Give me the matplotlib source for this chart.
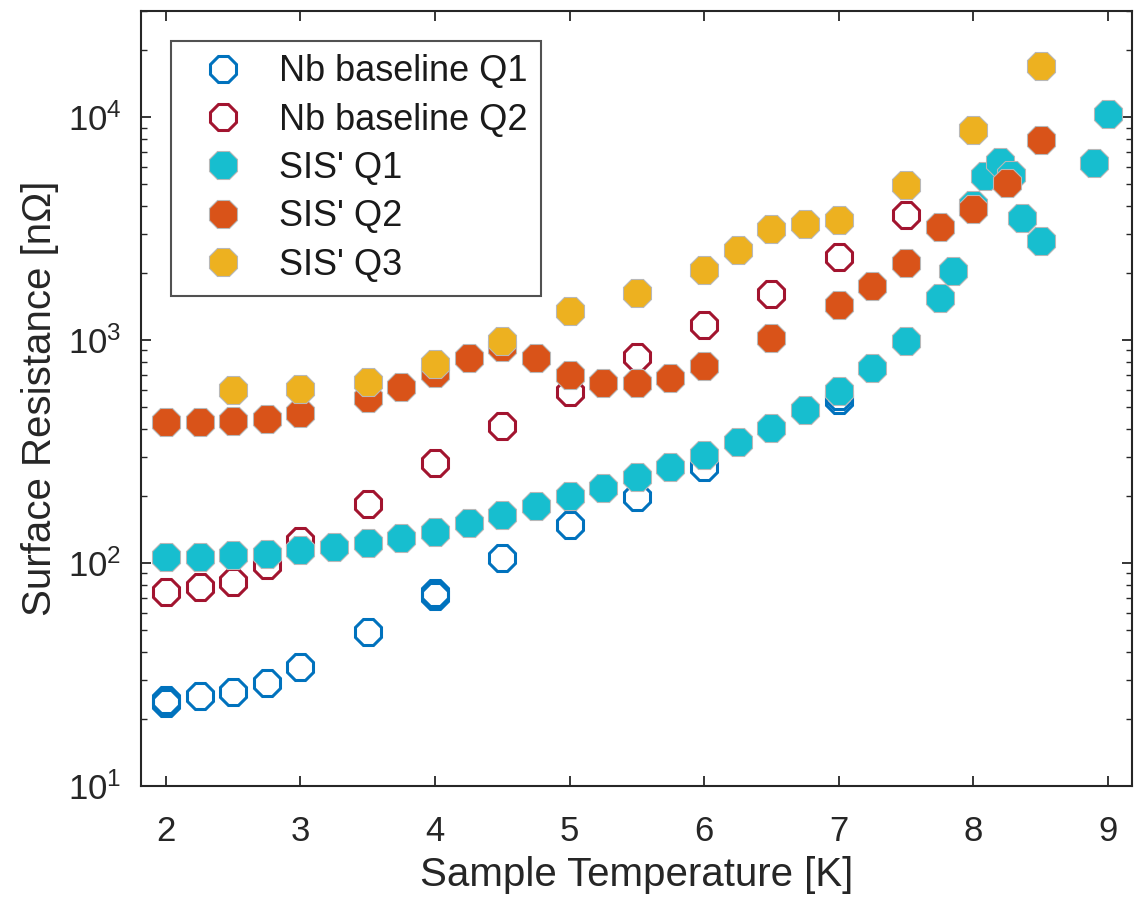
import matplotlib
matplotlib.use('Agg')
import matplotlib.pyplot as plt
from matplotlib.ticker import LogLocator, NullFormatter, FixedLocator
import numpy as np

plt.rcParams['font.family'] = ['Liberation Sans', 'DejaVu Sans']
plt.rcParams['mathtext.fontset'] = 'custom'
plt.rcParams['mathtext.rm'] = 'Liberation Sans'

t_nb_q1 = [2.0, 2.0, 2.25, 2.5, 2.75, 3.0, 3.5, 4.0, 4.0, 4.5, 5.0, 5.5, 6.0, 7.0, 7.0]
r_nb_q1 = [23.5, 24.3, 25.3, 26.5, 28.9, 34.3, 49, 71.5, 73.5, 105, 148, 198, 270, 538, 560]

t_nb_q2 = [2.0, 2.25, 2.5, 2.75, 3.0, 3.5, 4.0, 4.5, 5.0, 5.5, 6.0, 6.5, 7.0, 7.5]
r_nb_q2 = [74, 78, 82, 98, 125, 185, 282, 411, 586, 841, 1167, 1618, 2365, 3637]

t_sis_q1 = [2.0, 2.25, 2.5, 2.75, 3.0, 3.25, 3.5, 3.75, 4.0, 4.25, 4.5, 4.75, 5.0,
            5.25, 5.5, 5.75, 6.0, 6.25, 6.5, 6.75, 7.0, 7.25, 7.5, 7.75, 7.85,
            8.0, 8.09, 8.2, 8.28, 8.36, 8.5, 8.9, 9.0]
r_sis_q1 = [107, 107, 109, 110, 114, 118, 123, 130, 138, 152, 164, 181, 200,
            218, 244, 270, 305, 350, 402, 485, 590, 747, 993, 1553, 2040,
            4030, 5440, 6300, 5500, 3535, 2780, 6240, 10390]

t_sis_q2 = [2.0, 2.25, 2.5, 2.75, 3.0, 3.5, 3.75, 4.0, 4.25, 4.5, 4.75, 5.0, 5.25,
            5.5, 5.75, 6.0, 6.5, 7.0, 7.25, 7.5, 7.75, 8.0, 8.25, 8.5]
r_sis_q2 = [430, 430, 435, 441, 469, 548, 614, 709, 836, 933, 836, 697, 644,
            644, 680, 764, 1018, 1435, 1746, 2222, 3221, 3896, 5075, 7943]

t_sis_q3 = [2.5, 3.0, 3.5, 4.0, 4.5, 5.0, 5.5, 6.0, 6.25, 6.5, 6.75, 7.0, 7.5, 8.0, 8.5]
r_sis_q3 = [597, 601, 650, 780, 993, 1353, 1630, 2061, 2552, 3169, 3312, 3452, 4955, 8750, 16980]

x_ticks = [2, 3, 4, 5, 6, 7, 8, 9]

ink = '#262626'

fig = plt.figure(figsize=(11.36, 9.0), dpi=100)
ax = fig.add_axes([0.124, 0.1267, 0.8725, 0.8611])

ms = 21.5
ax.plot(t_nb_q1, r_nb_q1, '8', ms=ms - 1.5, mfc='none', mec='#0072BD', mew=2.2,
        label='Nb baseline Q1')
ax.plot(t_nb_q2, r_nb_q2, '8', ms=ms - 1.5, mfc='none', mec='#A2142F', mew=2.2,
        label='Nb baseline Q2')
ax.plot(t_sis_q1, r_sis_q1, '8', ms=ms, mfc='#17BECF', mec='#b8b8b8', mew=0.8,
        label="SIS' Q1")
ax.plot(t_sis_q2, r_sis_q2, '8', ms=ms, mfc='#D95319', mec='#b8b8b8', mew=0.8,
        label="SIS' Q2")
ax.plot(t_sis_q3, r_sis_q3, '8', ms=ms, mfc='#EDB120', mec='#b8b8b8', mew=0.8,
        label="SIS' Q3")

ax.set_yscale('log')
ax.set_xlim(1.814, 9.18)
ax.set_ylim(10, 3e4)
ax.xaxis.set_major_locator(FixedLocator(x_ticks))
ax.yaxis.set_major_locator(LogLocator(base=10, numticks=10))
ax.yaxis.set_minor_locator(LogLocator(base=10, subs=np.arange(2, 10), numticks=20))
ax.yaxis.set_minor_formatter(NullFormatter())

ax.tick_params(which='both', direction='in', top=True, right=True, colors=ink,
               labelsize=25)
ax.tick_params(axis='x', pad=21)
ax.tick_params(axis='y', pad=14)
ax.tick_params(which='major', length=7, width=1.3)
ax.tick_params(which='minor', length=4, width=1.0)
for s in ax.spines.values():
    s.set_color(ink)
    s.set_linewidth(1.5)

ax.set_xlabel('Sample Temperature [K]', fontsize=29, color=ink, labelpad=6)
ax.set_ylabel('Surface Resistance [n\u03a9]', fontsize=29, color=ink, labelpad=6)

leg = ax.legend(loc='upper left', bbox_to_anchor=(0.030, 0.961), borderaxespad=0,
                fontsize=26, frameon=True, fancybox=False, edgecolor=ink,
                handlelength=2.2, handletextpad=0.45, labelspacing=0.37,
                borderpad=0.36, numpoints=1)
leg.get_frame().set_linewidth(1.5)
for txt in leg.get_texts():
    txt.set_color('#1a1a1a')

fig.savefig('out.png', dpi=100)
